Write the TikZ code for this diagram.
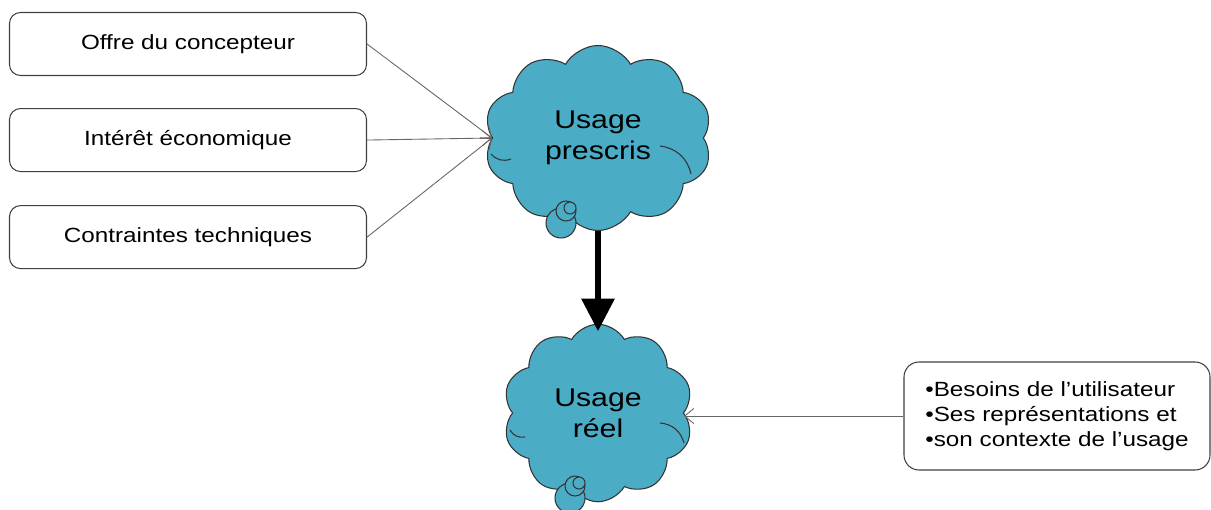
\documentclass[tikz,border=0pt]{standalone}
\usepackage{fontspec}
\setmainfont{Liberation Sans}[FakeStretch=1.18]
\usetikzlibrary{positioning,calc,shapes.symbols,arrows.meta}
\definecolor{nuagebleu}{HTML}{4BACC6}

\begin{document}
\begin{tikzpicture}[
	boite/.style={rounded corners=0.22cm,draw=black!75,line width=0.6pt,minimum width=7.14cm,minimum height=1.26cm,font=\fontsize{11.7}{14.4}\selectfont},
	nuage/.style={cloud,cloud puffs=10,cloud puff arc=120,cloud ignores aspect,fill=nuagebleu,draw=black!80,line width=0.6pt,align=center,font=\fontsize{14.6}{17.5}\selectfont},
	fin/.style={-{Straight Barb[length=1.8mm,width=3mm]},draw=black!60,line width=0.5pt},
	bulle/.style={fill=nuagebleu,draw=black!80,line width=0.6pt},
	boucle/.style={draw=black!80,line width=0.6pt}]
		\useasboundingbox (0,0) rectangle (24.22,-10.2);
		
		\node[boite] (offre) at (3.76,-0.88) {Offre du concepteur};
		\node[boite,below=0.64cm of offre] (interet) {Intérêt économique};
		\node[boite,below=0.66cm of interet] (contr) {Contraintes techniques};
		
		\node[nuage,minimum width=4.56cm,minimum height=3.7cm] (presc) at (11.96,-2.76) {Usage\\prescris};
		\node[nuage,minimum width=3.8cm,minimum height=3.55cm] (reel) at (11.96,-8.26) {Usage\\réel};
		
		% boucles internes
		\draw[boucle] ($(presc.center)+(-2.14,-0.32)$) to[bend right=35] ($(presc.center)+(-1.74,-0.42)$);
		\draw[boucle] ($(presc.center)+(1.24,-0.16)$) to[bend left=35] ($(presc.center)+(1.86,-0.72)$);
		\draw[boucle] ($(reel.center)+(-1.76,-0.34)$) to[bend right=35] ($(reel.center)+(-1.46,-0.48)$);
		\draw[boucle] ($(reel.center)+(1.24,-0.2)$) to[bend left=35] ($(reel.center)+(1.72,-0.6)$);
		
		\foreach \nu/\dx in {presc/-0.74,reel/-0.56}{%
			\draw[bulle] ($(\nu.center)+(\dx,-1.7)$) circle (0.3);
			\draw[bulle] ($(\nu.center)+(\dx+0.1,-1.46)$) circle (0.2);
			\draw[bulle] ($(\nu.center)+(\dx+0.18,-1.4)$) circle (0.12);
		}
		
		\node[boite,minimum width=6.12cm,minimum height=2.16cm,align=left,rounded corners=0.3cm] (bes) at (21.14,-8.32) {\textbullet Besoins de l’utilisateur\\\textbullet Ses représentations et\\\textbullet son contexte de l’usage};
		
		\draw[fin] (offre.east)--(presc.west);
		\draw[fin] (interet.east)--(presc.west);
		\draw[fin] (contr.east)--(presc.west);
		\draw[-{Triangle[length=6.5mm,width=6.4mm]},line width=3.4pt,shorten >=-0.15cm] (presc.south)--(reel.north);
		\draw[fin] (bes.west)--(bes.west-|reel.east);
	\end{tikzpicture}
\end{document}
